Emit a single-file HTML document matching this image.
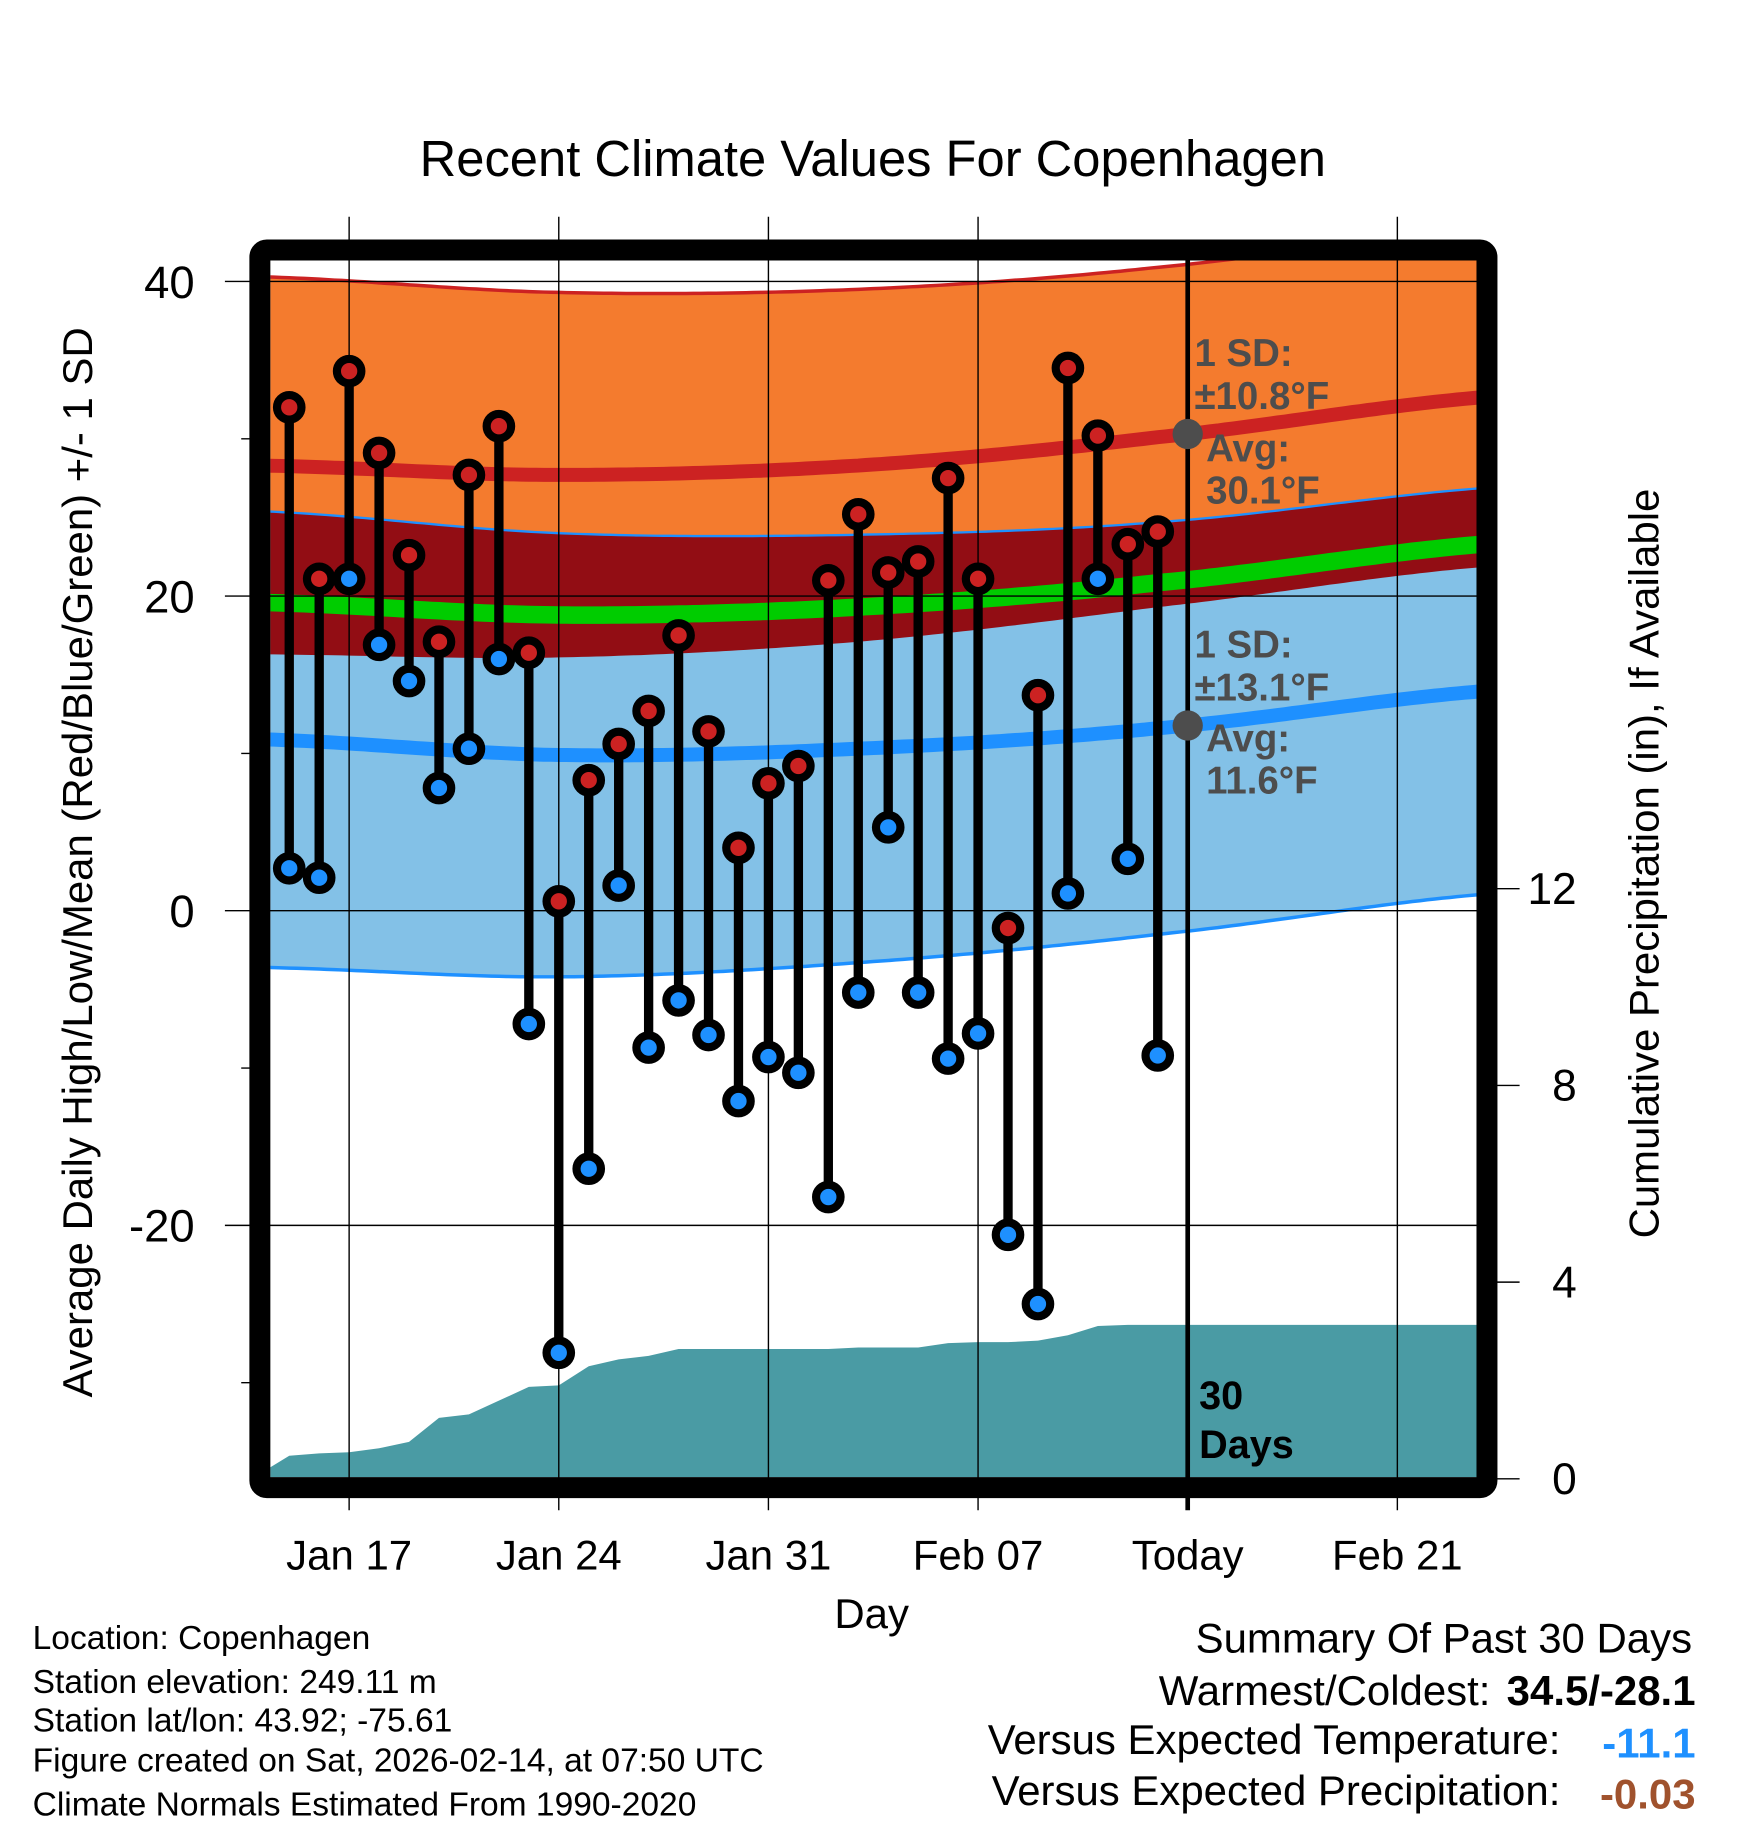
<!DOCTYPE html>
<html><head><meta charset="utf-8"><style>
html,body{margin:0;padding:0;background:#fff;}
svg{display:block;font-family:"Liberation Sans",Arial,sans-serif;}
</style></head><body>
<svg id="chart" width="1748" height="1828" viewBox="0 0 1500 1568.6" xmlns="http://www.w3.org/2000/svg">
<rect x="0" y="0" width="1500" height="1568.6" fill="#fff"/>
<defs><clipPath id="plotclip"><rect x="232" y="223.5" width="1036" height="1044"/></clipPath></defs>
<g id="bands" clip-path="url(#plotclip)"></g>
<g id="grid"></g>
<g id="marks"></g>
<rect x="223" y="214.5" width="1053" height="1062" rx="6" fill="none" stroke="#000" stroke-width="18"/>
<g id="labels"></g>
<text x="749" y="151" font-size="43.5" text-anchor="middle">Recent Climate Values For Copenhagen</text>
<text transform="translate(79,740) rotate(-90)" font-size="36" text-anchor="middle">Average Daily High/Low/Mean (Red/Blue/Green) +/- 1 SD</text>
<text transform="translate(1423,741) rotate(-90)" font-size="36" text-anchor="middle">Cumulative Precipitation (in), If Available</text>
<text x="748" y="1397" font-size="36" text-anchor="middle">Day</text>
<g font-size="28.8">
<text x="28" y="1415">Location: Copenhagen</text>
<text x="28" y="1453">Station elevation: 249.11 m</text>
<text x="28" y="1486">Station lat/lon: 43.92; -75.61</text>
<text x="28" y="1520">Figure created on Sat, 2026-02-14, at 07:50 UTC</text>
<text x="28" y="1558">Climate Normals Estimated From 1990-2020</text>
</g>
<g font-size="36">
<text x="1452" y="1418" text-anchor="end">Summary Of Past 30 Days</text>
<text x="1279" y="1463" text-anchor="end">Warmest/Coldest:</text>
<text x="1455" y="1463" text-anchor="end" font-weight="bold">34.5/-28.1</text>
<text x="1339" y="1505" text-anchor="end">Versus Expected Temperature:</text>
<text x="1455" y="1508" text-anchor="end" font-weight="bold" fill="#1e90ff">-11.1</text>
<text x="1339" y="1549" text-anchor="end">Versus Expected Precipitation:</text>
<text x="1455" y="1552" text-anchor="end" font-weight="bold" fill="#a0522d">-0.03</text>
</g>
</svg>
<script>
// ---- data ----
const dayLabels = ["Jan 15","Jan 16","Jan 17","Jan 18","Jan 19","Jan 20","Jan 21","Jan 22","Jan 23","Jan 24","Jan 25","Jan 26","Jan 27","Jan 28","Jan 29","Jan 30","Jan 31","Feb 01","Feb 02","Feb 03","Feb 04","Feb 05","Feb 06","Feb 07","Feb 08","Feb 09","Feb 10","Feb 11","Feb 12","Feb 13"];
const highs = [32.0,21.1,34.3,29.1,22.6,17.1,27.7,30.8,16.4,0.6,8.3,10.6,12.7,17.5,11.4,4.0,8.1,9.2,21.0,25.2,21.5,22.2,27.5,21.1,-1.1,13.7,34.5,30.2,23.3,24.1];
const lows = [2.7,2.1,21.1,16.9,14.6,7.8,10.3,16.0,-7.2,-28.1,-16.4,1.6,-8.7,-5.7,-7.9,-12.1,-9.3,-10.3,-18.2,-5.2,5.3,-5.2,-9.4,-7.8,-20.6,-25.0,1.1,21.1,3.3,-9.2];
const precipDays = [-1,0,1,2,3,4,5,6,7,8,9,10,11,12,13,14,15,16,17,18,19,20,21,22,23,24,25,26,27,28,29,42];
const precipCum = [0.10,0.47,0.52,0.54,0.62,0.75,1.24,1.31,1.59,1.87,1.90,2.29,2.43,2.50,2.64,2.64,2.64,2.64,2.64,2.64,2.67,2.67,2.67,2.76,2.78,2.78,2.81,2.92,3.11,3.13,3.13,3.13];
const normDays = [-1,9,19,29,41];
const avgHigh = [28.3,27.7,28.3,30.1,32.8];
const sdHigh = [12.0,11.6,11.2,10.8,10.8];
const avgLow = [10.9,9.9,10.3,11.6,14.1];
const sdLow = [14.5,14.1,13.6,13.1,12.9];
const xTickDays = [2,9,16,23,30,37];
const xTickLabels = ["Jan 17","Jan 24","Jan 31","Feb 07","Today","Feb 21"];
const yTicks = [40,20,0,-20];
const yMinor = [30,10,-10,-30];
const pTicks = [0,4,8,12];

// ---- scales ----
const X = d => 248.2 + d*25.7;
const Y = t => 781.5 - t*13.5;
const P = p => 1269 - p*42.2;
const NS = "http://www.w3.org/2000/svg";
function mk(tag, parent, attrs){const e=document.createElementNS(NS,tag);for(const k in attrs)e.setAttribute(k,attrs[k]);parent.appendChild(e);return e;}
function interp(xs, ys, d){
  let i=0; while(i<xs.length-2 && d>xs[i+1]) i++;
  const t=(d-xs[i])/(xs[i+1]-xs[i]);
  const p0=ys[Math.max(i-1,0)],p1=ys[i],p2=ys[i+1],p3=ys[Math.min(i+2,ys.length-1)];
  const t2=t*t,t3=t2*t;
  return 0.5*((2*p1)+(-p0+p2)*t+(2*p0-5*p1+4*p2-p3)*t2+(-p0+3*p1-3*p2+p3)*t3);
}
const samples=[]; for(let d=-1; d<=41.01; d+=0.25) samples.push(d);
const f = (arr,d)=>interp(normDays,arr,d);
function curve(fn){return samples.map(d=>X(d).toFixed(1)+","+Y(fn(d)).toFixed(1));}
function band(top,bot){return "M"+curve(top).join(" L")+" L"+curve(bot).reverse().join(" L")+" Z";}

const bands=document.getElementById('bands');
const hiTop=d=>f(avgHigh,d)+f(sdHigh,d), hiBot=d=>f(avgHigh,d)-f(sdHigh,d);
const loTop=d=>f(avgLow,d)+f(sdLow,d), loBot=d=>f(avgLow,d)-f(sdLow,d);
let e;
e=mk('path',bands,{d:band(hiTop,hiBot),fill:'#f47b2e'});


e=mk('path',bands,{d:band(loTop,loBot),fill:'#83c1e7'});


e=mk('path',bands,{d:band(loTop,hiBot),fill:'#920d14'});


e=mk('path',bands,{d:"M"+curve(hiTop).join(" L"),fill:'none',stroke:'#cc2222','stroke-width':3});


e=mk('path',bands,{d:"M"+curve(loTop).join(" L"),fill:'none',stroke:'#1e90ff','stroke-width':2});


e=mk('path',bands,{d:"M"+curve(loBot).join(" L"),fill:'none',stroke:'#1e90ff','stroke-width':3});


e=mk('path',bands,{d:"M"+curve(d=>f(avgHigh,d)).join(" L"),fill:'none',stroke:'#cc2222','stroke-width':12});


e=mk('path',bands,{d:"M"+curve(d=>(f(avgHigh,d)+f(avgLow,d))/2).join(" L"),fill:'none',stroke:'#00cc00','stroke-width':15});


e=mk('path',bands,{d:"M"+curve(d=>f(avgLow,d)).join(" L"),fill:'none',stroke:'#1e90ff','stroke-width':12});


let pd="M"+X(precipDays[0])+","+P(0);
precipDays.forEach((d,i)=>{pd+=" L"+X(d).toFixed(1)+","+P(precipCum[i]).toFixed(1);});
pd+=" L"+X(precipDays[precipDays.length-1])+","+P(0)+" Z";
e=mk('path',bands,{d:pd,fill:'#4a9ba4'});



// ---- grid ----
const grid=document.getElementById('grid');
yTicks.forEach(t=>{
  e=mk('line',grid,{x1:193,x2:1268,y1:Y(t),y2:Y(t),stroke:'#000','stroke-width':1.2});
  
  
});
yMinor.forEach(t=>{
  e=mk('line',grid,{x1:207,x2:222,y1:Y(t),y2:Y(t),stroke:'#000','stroke-width':1.2});
  
  
});
pTicks.forEach(p=>{
  e=mk('line',grid,{x1:1276,x2:1304,y1:P(p),y2:P(p),stroke:'#000','stroke-width':1.2});
  
  
});
xTickDays.forEach((d,i)=>{
  const today = xTickLabels[i]==="Today";
  e=mk('line',grid,{x1:X(d),x2:X(d),y1:today?223:186,y2:1296,stroke:'#000','stroke-width':today?4:1.2});
  
  
});

// ---- marks ----
const marks=document.getElementById('marks');
highs.forEach((h,i)=>{
  const x=X(i);
  const g=mk('g',marks,{});
  
  
  mk('line',g,{x1:x,x2:x,y1:Y(h),y2:Y(lows[i]),stroke:'#000','stroke-width':8});
  e=mk('circle',g,{cx:x,cy:Y(h),r:10.5,fill:'#cc2222',stroke:'#000','stroke-width':7});
  
  
  e=mk('circle',g,{cx:x,cy:Y(lows[i]),r:10.5,fill:'#1e90ff',stroke:'#000','stroke-width':7});
  
  
});
e=mk('circle',marks,{cx:X(30),cy:Y(f(avgHigh,30)),r:13,fill:'#4d4d4d'});


e=mk('circle',marks,{cx:X(30),cy:Y(f(avgLow,30)),r:13,fill:'#4d4d4d'});



// ---- labels ----
const lab=document.getElementById('labels');
yTicks.forEach(t=>{
  e=mk('text',lab,{x:167,y:Y(t)+14,'font-size':39,'text-anchor':'end'}); e.textContent=t;
  
  
});
pTicks.forEach(p=>{
  e=mk('text',lab,{x:1353,y:P(p)+13,'font-size':38,'text-anchor':'end'}); e.textContent=p;
  
  
});
xTickDays.forEach((d,i)=>{
  e=mk('text',lab,{x:X(d),y:1347,'font-size':36,'text-anchor':'middle'}); e.textContent=xTickLabels[i];
  
  
});
const ann=[["1 SD:",1025,314],["±10.8°F",1025,351],["Avg:",1035,396],["30.1°F",1035,432],["1 SD:",1025,564],["±13.1°F",1025,601],["Avg:",1035,645],["11.6°F",1035,681]];
ann.forEach(a=>{
  e=mk('text',lab,{x:a[1],y:a[2],'font-size':33,'font-weight':'bold',fill:'#4d4d4d'}); e.textContent=a[0];
  
  
});
e=mk('text',lab,{x:1029,y:1209,'font-size':34,'font-weight':'bold'}); e.textContent="30";


e=mk('text',lab,{x:1029,y:1251,'font-size':34,'font-weight':'bold'}); e.textContent="Days";


</script>
</body></html>
